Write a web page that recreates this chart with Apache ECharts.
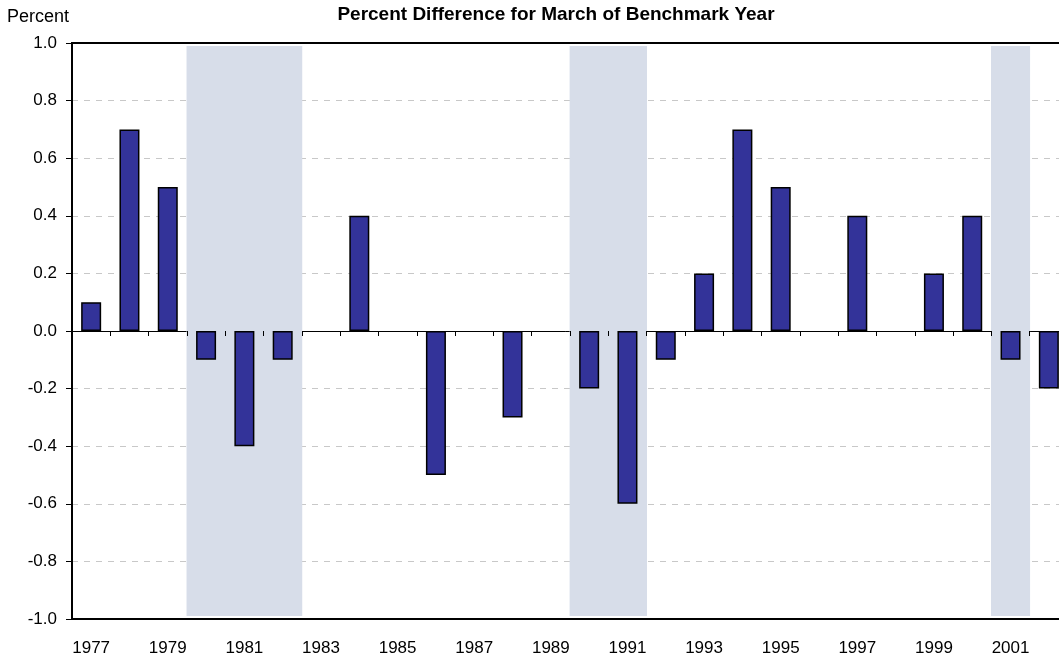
<!DOCTYPE html>
<html>
<head>
<meta charset="utf-8">
<title>Percent Difference for March of Benchmark Year</title>
<script src="https://cdn.jsdelivr.net/npm/echarts@6/dist/echarts.min.js"></script>
<style>
  html, body { margin: 0; padding: 0; background: #fff; }
  #chart { width: 1059px; height: 658px; }
</style>
</head>
<body>
<div id="chart"></div>
<script type="text/javascript">
// 数据
var years = ['1977','1978','1979','1980','1981','1982','1983','1984','1985','1986','1987','1988','1989',
             '1990','1991','1992','1993','1994','1995','1996','1997','1998','1999','2000','2001','2002'];
var diffValues = [0.1, 0.7, 0.5, -0.1, -0.4, -0.1, 0, 0.4, 0, -0.5, 0, -0.3, 0,
                  -0.2, -0.6, -0.1, 0.2, 0.7, 0.5, 0, 0.4, 0, 0.2, 0.4, -0.1, -0.2];
var recessionYears = ['1980','1981','1982','1990','1991','2001'];

// 零值不画柱子
var barData = diffValues.map(function (v) { return v === 0 ? null : v; });
var shadeUp = years.map(function (y) { return recessionYears.indexOf(y) >= 0 ? 0.99 : null; });
var shadeDown = years.map(function (y) { return recessionYears.indexOf(y) >= 0 ? -0.99 : null; });

var font = 'Liberation Sans, Arial, sans-serif';
var chart = echarts.init(document.getElementById('chart'));

var option = {
  animation: false,
  title: {
    text: 'Percent Difference for March of Benchmark Year',
    left: 551,
    top: 0,
    textAlign: 'center',
    textStyle: { fontFamily: font, fontSize: 19, fontWeight: 'bold', color: '#000' }
  },
  graphic: [{
    type: 'text', left: 7, top: 8,
    style: { text: 'Percent', font: '18px ' + font, fill: '#000' }
  }],
  grid: {
    left: 72, top: 43, width: 996, height: 576,
    outerBoundsMode: 'none',
    show: true, borderColor: '#000', borderWidth: 2, backgroundColor: 'transparent'
  },
  xAxis: [
    { // 零线和刻度
      type: 'category', data: years, boundaryGap: true,
      axisLine: { onZero: true, lineStyle: { color: '#000', width: 1 } },
      axisTick: { show: true, interval: 0, length: 5, lineStyle: { color: '#000' } },
      axisLabel: { show: false },
      splitLine: { show: false }
    },
    { // 底部年份标签
      type: 'category', data: years, position: 'bottom', boundaryGap: true,
      axisLine: { onZero: false, lineStyle: { color: '#000', width: 2 } },
      axisTick: { show: false },
      axisLabel: { interval: 1, fontFamily: font, fontSize: 17, color: '#000', margin: 21 },
      splitLine: { show: false }
    },
    { // 阴影
      type: 'category', data: years, show: false, boundaryGap: true
    }
  ],
  yAxis: {
    type: 'value', min: -1, max: 1, interval: 0.2,
    axisLine: { show: true, lineStyle: { color: '#000', width: 2 } },
    axisTick: { show: true, length: 6, lineStyle: { color: '#000' } },
    axisLabel: {
      fontFamily: font, fontSize: 17, color: '#000', margin: 15,
      formatter: function (v) { return v.toFixed(1); }
    },
    splitLine: {
      show: true, showMinLine: false, showMaxLine: false,
      lineStyle: { color: '#c8c8c8', type: [6, 6], width: 1 }
    }
  },
  series: [
    {
      name: 'shadeUp', type: 'bar', xAxisIndex: 2, stack: 'shade', data: shadeUp,
      barWidth: '102%', itemStyle: { color: '#d7dde9' }, silent: true, z: 0
    },
    {
      name: 'shadeDown', type: 'bar', xAxisIndex: 2, stack: 'shade', data: shadeDown,
      barWidth: '102%', itemStyle: { color: '#d7dde9' }, silent: true, z: 0
    },
    {
      name: 'Percent Difference', type: 'bar', xAxisIndex: 0, data: barData,
      barWidth: 20,
      itemStyle: { color: '#333399', borderColor: '#000', borderWidth: 1.5 },
      z: 3
    }
  ]
};
chart.setOption(option);
</script>
</body>
</html>
